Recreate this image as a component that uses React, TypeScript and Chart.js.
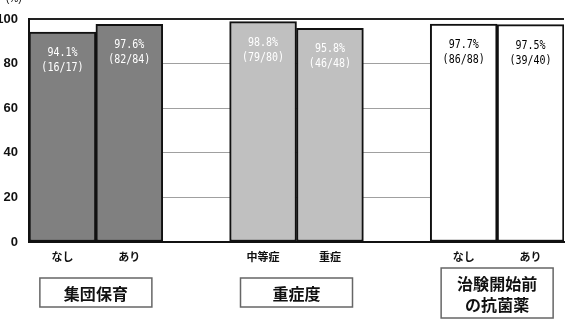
import React, { useEffect, useRef } from "react";
import { Chart, registerables } from "chart.js";
Chart.register(...registerables);

const categories = ["なし", "あり", "", "中等症", "重症", "", "なし", "あり"];
const values: (number | null)[] = [94.1, 97.6, null, 98.8, 95.8, null, 97.7, 97.5];
const fractions = ["(16/17)", "(82/84)", "", "(79/80)", "(46/48)", "", "(86/88)", "(39/40)"];
const barColors = ["#808080", "#808080", "#ffffff", "#c0c0c0", "#c0c0c0", "#ffffff", "#ffffff", "#ffffff"];
const labelColors = ["#ffffff", "#ffffff", "#000", "#ffffff", "#ffffff", "#000", "#000000", "#000000"];
const groupNames = [["集団保育"], ["重症度"], ["治験開始前", "の抗菌薬"]];
const groupCenters = [0.5, 3.5, 6.5];
const yTicks = [0, 20, 40, 60, 80, 100];

export default function App() {
  const ref = useRef<HTMLCanvasElement>(null);
  useEffect(() => {
    document.body.style.margin = "0";
    const ctx = ref.current!;
    const overlay = {
      id: "overlay",
      afterDatasetsDraw(chart: any) {
        const c = chart.ctx;
        const xs = chart.scales.x;
        const ys = chart.scales.y;
        c.save();
        // bar value labels
        const meta = chart.getDatasetMeta(0);
        c.font = "11.5px 'DejaVu Sans Mono'";
        c.textAlign = "center";
        c.textBaseline = "middle";
        values.forEach((v, i) => {
          if (v == null) return;
          const el = meta.data[i];
          c.fillStyle = labelColors[i];
          c.save();
          c.translate(el.x, el.y);
          c.scale(0.87, 1);
          c.fillText(v.toFixed(1) + "%", 0, 21);
          c.fillText(fractions[i], 0, 36);
          c.restore();
        });
        // (%) label
        c.fillStyle = "#000";
        c.font = "10px 'Liberation Sans'";
        c.textAlign = "left";
        c.textBaseline = "bottom";
        c.fillText("(%)", 6, 4);
        // group boxes
        c.font = "bold 16px 'Noto Sans CJK JP'";
        c.textAlign = "center";
        c.textBaseline = "middle";
        groupNames.forEach((lines, g) => {
          const cx = xs.getPixelForValue(groupCenters[g]);
          const w = 112;
          const lineH = 21;
          const h = lines.length === 1 ? 29 : 50;
          const top = lines.length === 1 ? ys.bottom + 36 : ys.bottom + 26;
          c.strokeStyle = "#666";
          c.lineWidth = 1.5;
          c.fillStyle = "#fff";
          c.fillRect(cx - w / 2, top, w, h);
          c.strokeRect(cx - w / 2, top, w, h);
          c.fillStyle = "#111";
          const startY = top + h / 2 - ((lines.length - 1) * lineH) / 2;
          lines.forEach((t, k) => c.fillText(t, cx, startY + k * lineH + 1));
        });
        c.restore();
      },
    };
    const chart = new Chart(ctx, {
      type: "bar",
      data: {
        labels: categories,
        datasets: [
          {
            data: values,
            backgroundColor: barColors,
            borderColor: "#111",
            borderWidth: 2,
            borderSkipped: false,
            barPercentage: 1,
            categoryPercentage: 1,
          },
        ],
      },
      options: {
        animation: false,
        responsive: false,
        maintainAspectRatio: false,
        layout: { padding: { top: 19, right: 4, left: 0, bottom: 0 } },
        plugins: { legend: { display: false }, tooltip: { enabled: false } },
        scales: {
          x: {
            grid: { display: false, drawTicks: false },
            border: { color: "#111", width: 2 },
            ticks: {
              padding: 8,
              color: "#111",
              font: { family: "'Noto Sans CJK JP'", size: 11, weight: "bold" },
              maxRotation: 0,
              autoSkip: false,
            },
            afterFit(s: any) {
              s.height = 79;
            },
          },
          y: {
            min: 0,
            max: 100,
            afterBuildTicks(s: any) {
              s.ticks = yTicks.map((v) => ({ value: v }));
            },
            grid: {
              drawTicks: false,
              color: (c: any) => (c.tick && c.tick.value === 100 ? "#222" : "#a0a0a0"),
              lineWidth: (c: any) => (c.tick && c.tick.value === 100 ? 2 : 1),
            },
            border: { color: "#111", width: 2 },
            ticks: {
              padding: 11,
              color: "#111",
              font: { family: "'Liberation Sans'", size: 13, weight: "bold" },
            },
            afterFit(s: any) {
              s.width = 29;
            },
          },
        },
      },
      plugins: [overlay],
    });
    return () => chart.destroy();
  }, []);
  return (
    <div style={{ position: "absolute", left: 0, top: 0, width: 568, height: 321, background: "#fff" }}>
      <canvas ref={ref} width={568} height={321} />
    </div>
  );
}
